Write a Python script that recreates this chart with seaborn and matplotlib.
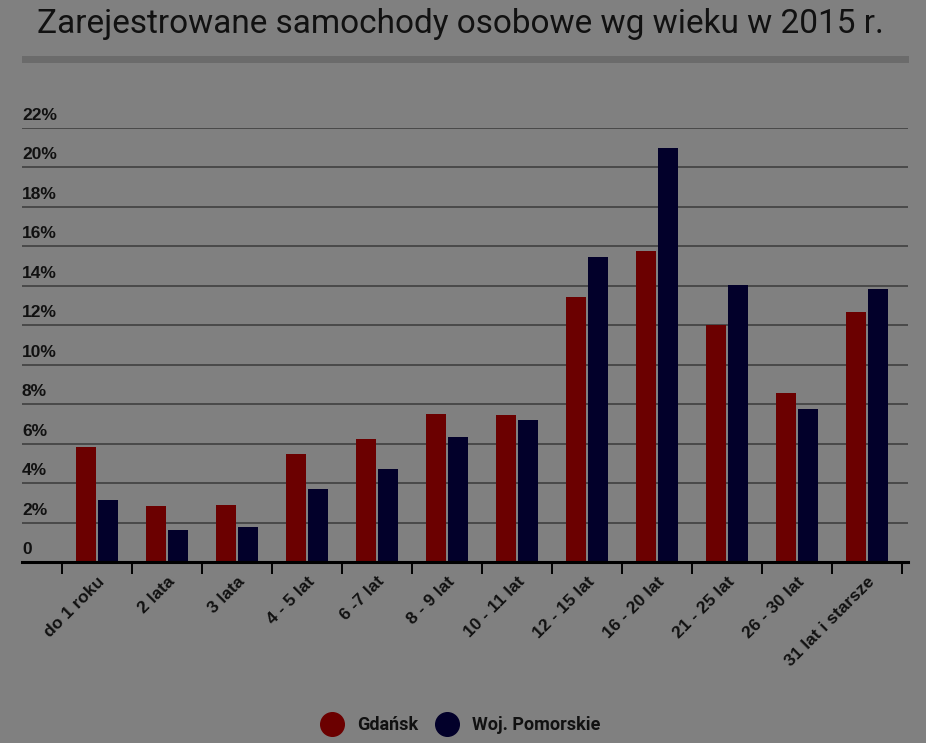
import pandas as pd
import seaborn as sns
import matplotlib.pyplot as plt
from matplotlib.lines import Line2D
from matplotlib.patches import Rectangle
from matplotlib.transforms import ScaledTranslation, blended_transform_factory

# dane (% zarejestrowanych samochodów)
categories = ["do 1 roku", "2 lata", "3 lata", "4 - 5 lat", "6 -7 lat", "8 - 9 lat",
              "10 - 11 lat", "12 - 15 lat", "16 - 20 lat", "21 - 25 lat", "26 - 30 lat",
              "31 lat i starsze"]
gdansk = [5.85, 2.87, 2.88, 5.48, 6.24, 7.52, 7.44, 13.40, 15.76, 12.0, 8.56, 12.64]
pomorskie = [3.15, 1.65, 1.77, 3.70, 4.71, 6.36, 7.19, 15.46, 20.98, 14.02, 7.76, 13.82]
series = ["Gdańsk", "Woj. Pomorskie"]
colors = ["#6b0000", "#02002a"]
yticks = list(range(0, 23, 2))
ylabels = ["0"] + [f"{v}%" for v in yticks[1:]]
title = "Zarejestrowane samochody osobowe wg wieku w 2015 r."

df = pd.DataFrame({
    "wiek": categories * 2,
    "udzial": gdansk + pomorskie,
    "seria": [series[0]] * len(categories) + [series[1]] * len(categories),
})

bg = "#808080"
sns.set_theme(style="white")
plt.rcParams["font.family"] = ["Liberation Sans", "DejaVu Sans"]

fig = plt.figure(figsize=(9.26, 7.43), dpi=100, facecolor=bg)
ax = fig.add_axes([22 / 926, 1 - 562.3 / 743, 886 / 926, (562.3 - 127.5) / 743])
ax.set_facecolor(bg)

sns.barplot(data=df, x="wiek", y="udzial", hue="seria", palette=colors,
            width=0.62, gap=0.08, saturation=1, legend=False, ax=ax, zorder=3,
            linewidth=0, edgecolor="none")

ax.set_xlim(-75 / 70, 811 / 70)
ax.set_ylim(0, 22)
ax.set_xlabel("")
ax.set_ylabel("")

# siatka pozioma
for v in yticks[1:]:
    ax.axhline(v, color="#3a3a3a", lw=1.1, zorder=1)

for s in ["top", "right", "left"]:
    ax.spines[s].set_visible(False)
ax.spines["bottom"].set_color("black")
ax.spines["bottom"].set_linewidth(2.2)
ax.spines["bottom"].set_zorder(4)

# znaczniki na granicach kategorii
ax.set_xticks([i - 0.5 for i in range(len(categories) + 1)], minor=True)
ax.tick_params(axis="x", which="minor", bottom=True, length=8.6, width=1.4,
               color="black", direction="out")
ax.tick_params(axis="x", which="major", bottom=False, length=0, pad=0)
ax.set_xticks(range(len(categories)))
ax.set_xticklabels(categories, rotation=45, ha="right", va="center",
                   rotation_mode="anchor", fontsize=12.5, fontweight="bold",
                   color="#111111")
off = ScaledTranslation(5 / 100, -17 / 100, fig.dpi_scale_trans)
for lab in ax.get_xticklabels():
    lab.set_transform(lab.get_transform() + off)

# etykiety osi Y nad liniami siatki
ax.set_yticks([])
tr = blended_transform_factory(ax.transAxes, ax.transData)
for v, lab in zip(yticks, ylabels):
    ax.text(0, v, lab, transform=tr + ScaledTranslation(0, 5 / 100, fig.dpi_scale_trans),
            ha="left", va="bottom", fontsize=12.5, fontweight="bold", color="#111111")

# tytuł i belka pod nim
fig.text(460.5 / 926, 1 - 33 / 743, title, ha="center", va="baseline",
         fontsize=24, family=["Roboto", "DejaVu Sans"], color="#111111")
fig.patches.append(Rectangle((22 / 926, 1 - 62.7 / 743), 887 / 926, 6.7 / 743,
                             transform=fig.transFigure, facecolor="#6b6b6b",
                             edgecolor="none"))

# legenda
handles = [Line2D([], [], marker="o", ls="none", markersize=17, markerfacecolor=c,
                  markeredgecolor=c) for c in colors]
fig.legend(handles, series, loc="center", bbox_to_anchor=(457 / 926, 1 - 725 / 743),
           ncol=2, frameon=False, handletextpad=0.4, columnspacing=0.6,
           prop={"family": ["Roboto", "DejaVu Sans"], "weight": "bold", "size": 13},
           labelcolor="#111111")

fig.savefig("out.png", dpi=100, facecolor=bg)
